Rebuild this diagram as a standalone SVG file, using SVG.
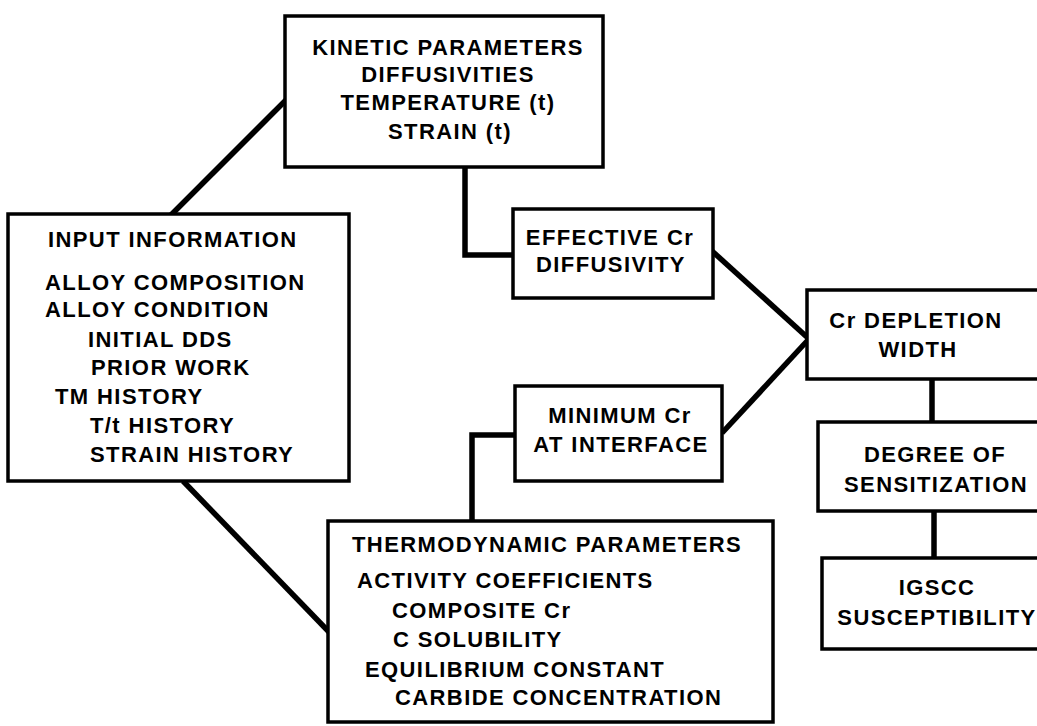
<svg xmlns="http://www.w3.org/2000/svg" width="1037" height="726" viewBox="0 0 1037 726">
<style>
.box{fill:#fff;stroke:#000;stroke-width:3.5}
.c{fill:none;stroke:#000;stroke-width:5.5;stroke-linejoin:miter}
text{font-family:"Liberation Sans",Arial,sans-serif;font-weight:bold;font-size:22px;letter-spacing:1.4px;fill:#000}
.m{text-anchor:middle}
</style>
<rect width="1037" height="726" fill="#fff"/>
<g id="connectors">
<line class="c" x1="286" y1="100" x2="171" y2="215"/>
<polyline class="c" points="465,167 465,255 514,255"/>
<line class="c" x1="712" y1="251" x2="808" y2="338"/>
<line class="c" x1="722" y1="433" x2="808" y2="340"/>
<polyline class="c" points="515,435 472,435 472,524"/>
<line class="c" x1="183" y1="481" x2="330" y2="633"/>
<line class="c" x1="932" y1="379" x2="932" y2="423"/>
<line class="c" x1="934" y1="511" x2="934" y2="559"/>
</g>
<g id="kinetic">
<rect class="box" x="285" y="16" width="318" height="151"/>
<text class="m" x="448" y="55">KINETIC PARAMETERS</text>
<text class="m" x="448" y="82">DIFFUSIVITIES</text>
<text class="m" x="448" y="110">TEMPERATURE (t)</text>
<text class="m" x="450" y="139">STRAIN (t)</text>
</g>
<g id="input">
<rect class="box" x="8" y="214" width="341" height="267"/>
<text x="48" y="247">INPUT INFORMATION</text>
<text x="45" y="290">ALLOY COMPOSITION</text>
<text x="45" y="317">ALLOY CONDITION</text>
<text x="88" y="347">INITIAL DDS</text>
<text x="91" y="375">PRIOR WORK</text>
<text x="55" y="404">TM HISTORY</text>
<text x="90" y="433">T/t HISTORY</text>
<text x="90" y="462">STRAIN HISTORY</text>
</g>
<g id="effective">
<rect class="box" x="513" y="209" width="200" height="89"/>
<text class="m" x="610" y="245">EFFECTIVE Cr</text>
<text class="m" x="611" y="272">DIFFUSIVITY</text>
</g>
<g id="minimum">
<rect class="box" x="515" y="386" width="207" height="95"/>
<text class="m" x="620" y="423">MINIMUM Cr</text>
<text class="m" x="621" y="452">AT INTERFACE</text>
</g>
<g id="thermo">
<rect class="box" x="328" y="521" width="445" height="201"/>
<text x="352" y="552">THERMODYNAMIC PARAMETERS</text>
<text x="357" y="588">ACTIVITY COEFFICIENTS</text>
<text x="392" y="618">COMPOSITE Cr</text>
<text x="393" y="647">C SOLUBILITY</text>
<text x="365" y="677">EQUILIBRIUM CONSTANT</text>
<text x="395" y="705">CARBIDE CONCENTRATION</text>
</g>
<g id="depletion">
<rect class="box" x="807" y="290" width="240" height="89"/>
<text class="m" x="916" y="328">Cr DEPLETION</text>
<text class="m" x="918" y="357">WIDTH</text>
</g>
<g id="degree">
<rect class="box" x="818" y="422" width="229" height="89"/>
<text class="m" x="935" y="462">DEGREE OF</text>
<text class="m" x="936" y="492">SENSITIZATION</text>
</g>
<g id="igscc">
<rect class="box" x="822" y="558" width="225" height="91"/>
<text class="m" x="937" y="595">IGSCC</text>
<text class="m" x="937" y="625">SUSCEPTIBILITY</text>
</g>
</svg>
